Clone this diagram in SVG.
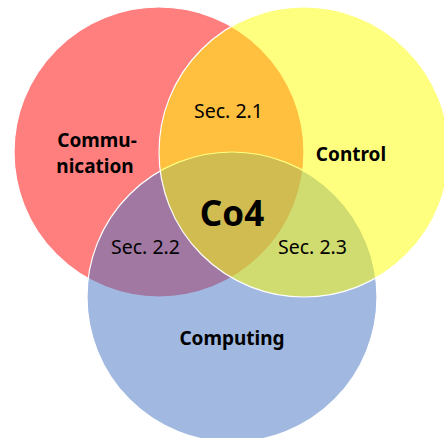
<svg xmlns="http://www.w3.org/2000/svg" width="444" height="438" viewBox="0 0 444 438">
  <style>
    .set { stroke: #ffffff; stroke-width: 1.2; fill-opacity: 0.5; }
    .lbl { font-family: "Noto Sans", "Open Sans", sans-serif; font-weight: bold; font-size: 19px; fill: #000000; text-anchor: middle; }
    .sec { font-family: "Noto Sans", "Open Sans", sans-serif; font-size: 19.5px; fill: #000000; text-anchor: middle; }
    .core { font-family: "Noto Sans", "Open Sans", sans-serif; font-weight: bold; font-size: 35px; fill: #000000; text-anchor: middle; }
  </style>
  <rect width="444" height="438" fill="#ffffff"/>
  <g id="communication">
    <circle class="set" cx="159" cy="152" r="145" fill="#ff0000"/>
    <text class="lbl" x="97" y="147">Commu-</text>
    <text class="lbl" x="95" y="173">nication</text>
  </g>
  <g id="computing">
    <circle class="set" cx="232" cy="297" r="145" fill="#4472c4"/>
    <text class="lbl" x="232" y="345">Computing</text>
  </g>
  <g id="control">
    <circle class="set" cx="304" cy="152" r="145" fill="#ffff00"/>
    <text class="lbl" x="351" y="161">Control</text>
  </g>
  <g id="sec21">
    <text class="sec" x="228.5" y="118">Sec. 2.1</text>
  </g>
  <g id="sec22">
    <text class="sec" x="145.5" y="254">Sec. 2.2</text>
  </g>
  <g id="sec23">
    <text class="sec" x="312.5" y="254">Sec. 2.3</text>
  </g>
  <g id="co4">
    <text class="core" x="232" y="226">Co4</text>
  </g>
</svg>
